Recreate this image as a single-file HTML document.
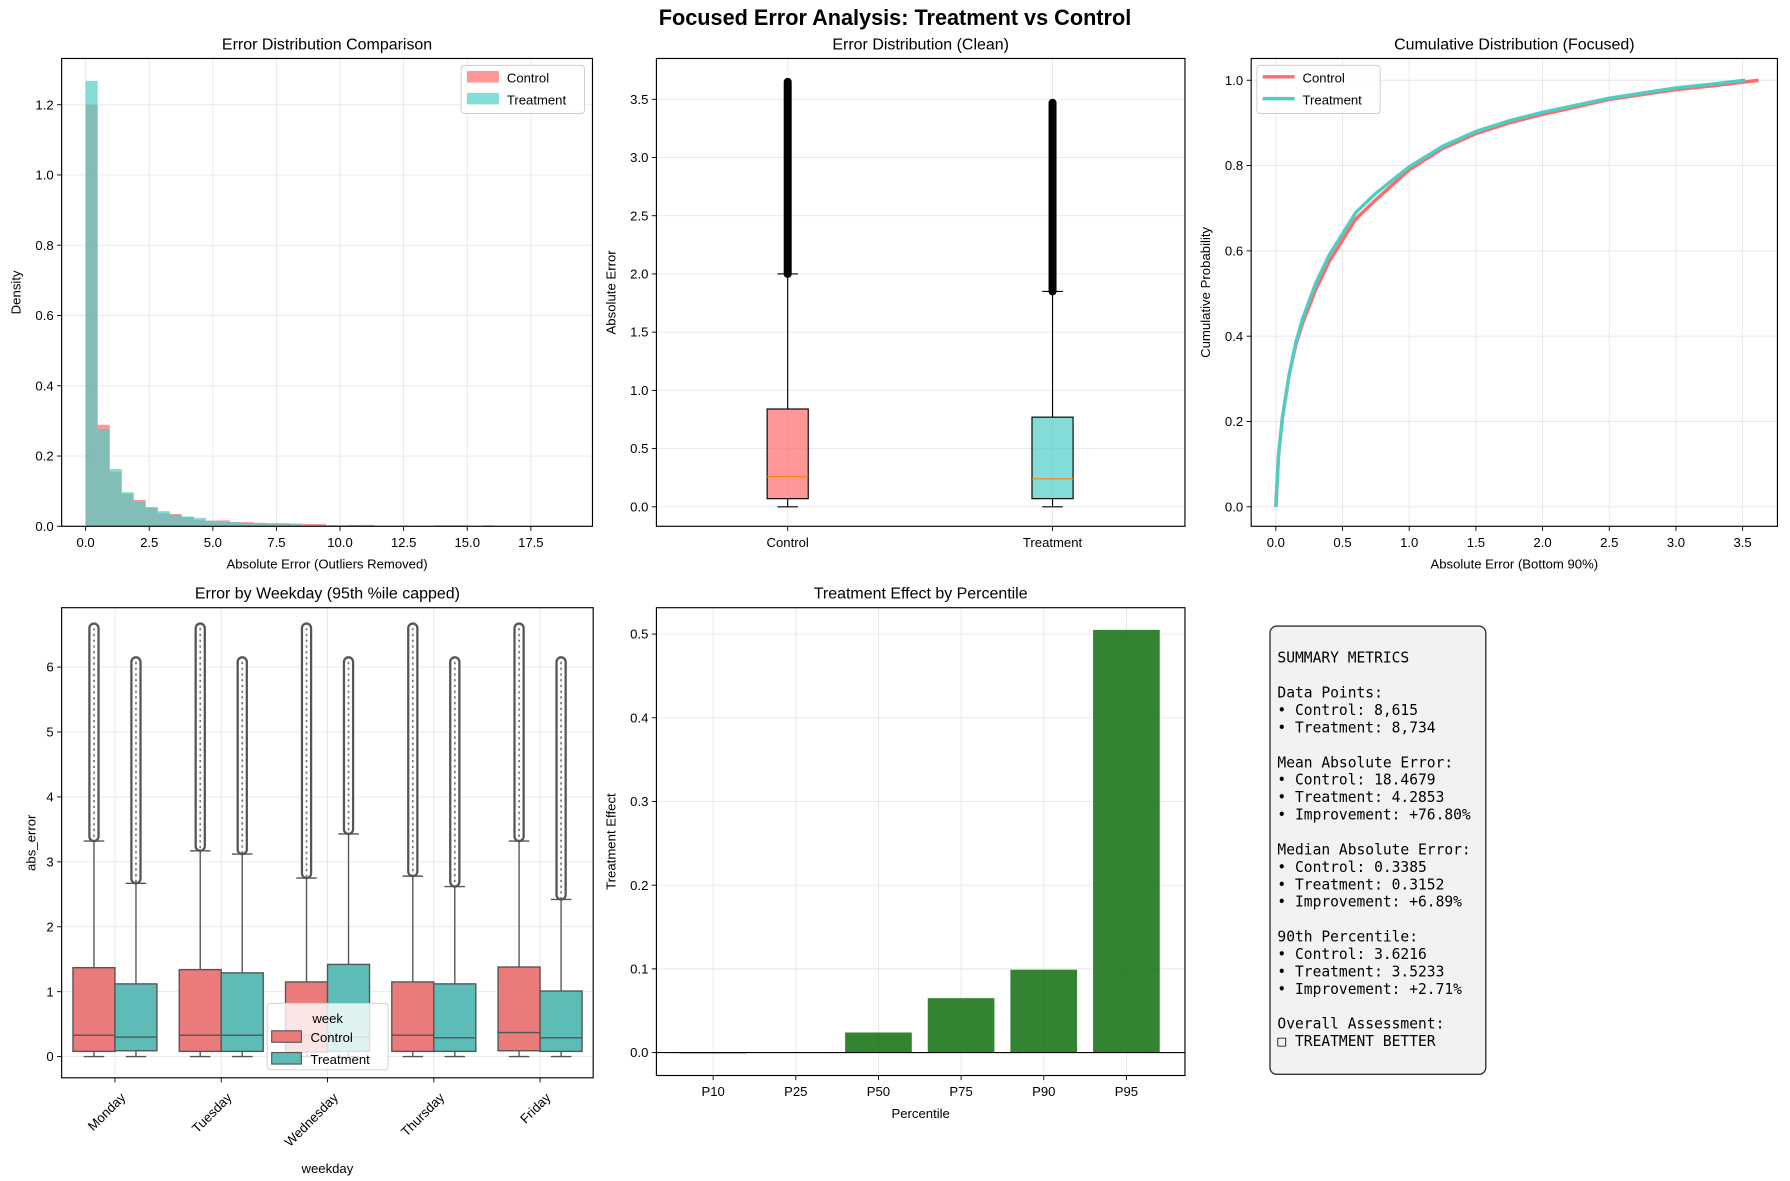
<!DOCTYPE html>
<html><head><meta charset="utf-8">
<style>
html,body{margin:0;padding:0;background:#fff;}
svg{display:block;font-family:"Liberation Sans","DejaVu Sans",sans-serif;}
.mono{font-family:"DejaVu Sans Mono","Liberation Mono",monospace;}
</style></head>
<body>
<svg id="fig" width="1790" height="1181" viewBox="0 0 1568 1030" preserveAspectRatio="none" xmlns="http://www.w3.org/2000/svg">
<rect x="0" y="0" width="1568" height="1030" fill="#fff"/>
<text x="784" y="22" text-anchor="middle" font-size="19" font-weight="bold">Focused Error Analysis: Treatment vs Control</text>
</svg>
<script>
// ---- Panel 1: histogram data ----
const histBinStart = 0;
const histBinWidth = 0.4725;
const histControl = [1.2,0.289,0.155,0.093,0.075,0.053,0.037,0.035,0.026,0.018,0.016,0.017,0.012,0.012,0.01,0.009,0.009,0.006,0.007,0.007,0.003,0.003,0.004,0.004,0.002,0.001,0.002,0.001,0.001,0.001,0.001,0.001,0,0.003,0,0,0,0,0,0];
const histTreatment = [1.268,0.277,0.163,0.097,0.07,0.055,0.043,0.033,0.028,0.024,0.016,0.013,0.012,0.009,0.008,0.007,0.006,0.008,0.004,0.003,0.003,0.002,0.003,0.002,0.001,0.002,0.002,0.001,0.001,0.003,0.003,0.003,0,0,0,0,0,0,0,0];
const histXTicks = [0,2.5,5,7.5,10,12.5,15,17.5];
const histYTicks = [0,0.2,0.4,0.6,0.8,1.0,1.2];
// ---- Panel 2: boxplot (clean) ----
const box2Groups = ['Control','Treatment'];
const box2Q1 = [0.07,0.07];
const box2Median = [0.26,0.24];
const box2Q3 = [0.84,0.77];
const box2WhiskerLow = [0,0];
const box2WhiskerHigh = [2.0,1.85];
const box2FlierMax = [3.65,3.47];
const box2YTicks = [0,0.5,1.0,1.5,2.0,2.5,3.0,3.5];
// ---- Panel 3: CDF ----
const cdfControlX = [0,0.02,0.05,0.1,0.15,0.2,0.3,0.4,0.5,0.6,0.75,1.0,1.25,1.5,1.75,2.0,2.5,3.0,3.3,3.62];
const cdfControlY = [0,0.12,0.21,0.31,0.38,0.43,0.51,0.575,0.625,0.675,0.72,0.79,0.84,0.875,0.9,0.92,0.955,0.978,0.988,1.0];
const cdfTreatX = [0,0.02,0.05,0.1,0.15,0.2,0.3,0.4,0.5,0.6,0.75,1.0,1.25,1.5,1.75,2.0,2.5,3.0,3.3,3.52];
const cdfTreatY = [0,0.12,0.21,0.31,0.385,0.44,0.525,0.59,0.64,0.69,0.735,0.797,0.845,0.88,0.905,0.925,0.958,0.982,0.992,1.0];
const cdfXTicks = [0,0.5,1.0,1.5,2.0,2.5,3.0,3.5];
const cdfYTicks = [0,0.2,0.4,0.6,0.8,1.0];
// ---- Panel 4: weekday boxplot ----
const weekdays = ['Monday','Tuesday','Wednesday','Thursday','Friday'];
const wdCtrlQ1 = [0.08,0.08,0.07,0.08,0.09];
const wdCtrlMed = [0.33,0.33,0.33,0.33,0.37];
const wdCtrlQ3 = [1.37,1.34,1.15,1.15,1.38];
const wdCtrlWhisk = [3.32,3.17,2.75,2.78,3.32];
const wdCtrlMax = [6.6,6.6,6.6,6.6,6.6];
const wdTrtQ1 = [0.09,0.08,0.08,0.08,0.08];
const wdTrtMed = [0.30,0.33,0.30,0.29,0.29];
const wdTrtQ3 = [1.12,1.29,1.42,1.12,1.01];
const wdTrtWhisk = [2.67,3.12,3.43,2.62,2.42];
const wdTrtMax = [6.08,6.08,6.08,6.08,6.08];
const wdYTicks = [0,1,2,3,4,5,6];
// ---- Panel 5: treatment effect ----
const pctCats = ['P10','P25','P50','P75','P90','P95'];
const pctEffect = [-0.001,0.0005,0.024,0.065,0.099,0.505];
const pctYTicks = [0,0.1,0.2,0.3,0.4,0.5];
// ---- Panel 6: summary ----
const summaryLines = ['SUMMARY METRICS','','Data Points:','• Control: 8,615','• Treatment: 8,734','','Mean Absolute Error:','• Control: 18.4679','• Treatment: 4.2853','• Improvement: +76.80%','','Median Absolute Error:','• Control: 0.3385','• Treatment: 0.3152','• Improvement: +6.89%','','90th Percentile:','• Control: 3.6216','• Treatment: 3.5233','• Improvement: +2.71%','','Overall Assessment:','□ TREATMENT BETTER'];

const NS='http://www.w3.org/2000/svg';
const fig=document.getElementById('fig');
function mk(tag,attrs,parent){const e=document.createElementNS(NS,tag);for(const k in attrs)e.setAttribute(k,attrs[k]);(parent||fig).appendChild(e);return e;}
function lin(d0,d1,r0,r1){return v=>r0+(v-d0)*(r1-r0)/(d1-d0);}
function fmt(v,dec){return v.toFixed(dec);}

function frame(name){
  const g=mk('g',{});
  
  
  return g;
}
function gridX(g,pos,y0,y1){pos.forEach(p=>{const l=mk('line',{x1:p,x2:p,y1:y0,y2:y1,stroke:'#b0b0b0','stroke-opacity':0.3,'stroke-width':0.8},g);
  
  });}
function gridY(g,pos,x0,x1){pos.forEach(p=>{const l=mk('line',{x1:x0,x2:x1,y1:p,y2:p,stroke:'#b0b0b0','stroke-opacity':0.3,'stroke-width':0.8},g);
  
  });}
function border(g,x0,y0,x1,y1){const r=mk('rect',{x:x0,y:y0,width:x1-x0,height:y1-y0,fill:'none',stroke:'#000','stroke-width':1},g);
  
  }
function xTicks(g,pos,labels,yb,rot){pos.forEach((p,i)=>{const l=mk('line',{x1:p,x2:p,y1:yb,y2:yb+4,stroke:'#000','stroke-width':0.8},g);
  
  
  let t;
  if(rot){t=mk('text',{x:p+4,y:yb+12,'font-size':11.5,'text-anchor':'end',transform:`rotate(-45 ${p+4} ${yb+12})`,'dominant-baseline':'hanging'},g);}
  else t=mk('text',{x:p,y:yb+18,'font-size':11.5,'text-anchor':'middle'},g);
  t.textContent=labels[i];
  
  });}
function yTicks(g,pos,labels,xl){pos.forEach((p,i)=>{const l=mk('line',{x1:xl-4,x2:xl,y1:p,y2:p,stroke:'#000','stroke-width':0.8},g);
  
  
  const t=mk('text',{x:xl-7,y:p+4,'font-size':11.5,'text-anchor':'end'},g);
  t.textContent=labels[i];
  
  });}
function title(g,x,y,s){const t=mk('text',{x:x,y:y,'font-size':14,'text-anchor':'middle'},g);t.textContent=s;
  
  }
function xlabel(g,x,y,s){const t=mk('text',{x:x,y:y,'font-size':11.5,'text-anchor':'middle'},g);t.textContent=s;
  
  }
function ylabel(g,x,y,s){const t=mk('text',{x:x,y:y,'font-size':11.5,'text-anchor':'middle',transform:`rotate(-90 ${x} ${y})`},g);t.textContent=s;
  
  }
function legendBox(g,x,y,w,h){const r=mk('rect',{x:x,y:y,width:w,height:h,rx:3,fill:'#fff','fill-opacity':0.8,stroke:'#ccc','stroke-width':0.8},g);
  
  }
function legendText(g,x,y,s){const t=mk('text',{x:x,y:y,'font-size':11.5},g);t.textContent=s;
  
  }

// ===== Panel 1 =====
(function(){
  const X0=54,X1=519,Y0=51,Y1=459;
  const sx=lin(0,17.5,75,465), sy=lin(0,1.0,459,152.6);
  const g=frame('histogram-panel');
  gridX(g,histXTicks.map(sx),Y0,Y1); gridY(g,histYTicks.map(sy),X0,X1);
  histControl.forEach((v,i)=>{if(v<=0)return;const a=histBinStart+i*histBinWidth;
    const r=mk('rect',{x:sx(a),y:sy(v),width:sx(a+histBinWidth)-sx(a),height:sy(0)-sy(v),fill:'#FF6B6B','fill-opacity':0.7},g);
    
    });
  histTreatment.forEach((v,i)=>{if(v<=0)return;const a=histBinStart+i*histBinWidth;
    const r=mk('rect',{x:sx(a),y:sy(v),width:sx(a+histBinWidth)-sx(a),height:sy(0)-sy(v),fill:'#4ECDC4','fill-opacity':0.7},g);
    
    });
  border(g,X0,Y0,X1,Y1);
  xTicks(g,histXTicks.map(sx),histXTicks.map(v=>fmt(v,1)),Y1);
  yTicks(g,histYTicks.map(sy),histYTicks.map(v=>fmt(v,1)),X0);
  title(g,(X0+X1)/2,Y0-8,'Error Distribution Comparison');
  xlabel(g,(X0+X1)/2,496,'Absolute Error (Outliers Removed)');
  ylabel(g,18,(Y0+Y1)/2,'Density');
  legendBox(g,404,57,108,42);
  let s=mk('rect',{x:409,y:62,width:28,height:10,fill:'#FF6B6B','fill-opacity':0.7},g);
  
  
  legendText(g,444,72,'Control');
  s=mk('rect',{x:409,y:81,width:28,height:10,fill:'#4ECDC4','fill-opacity':0.7},g);
  
  
  legendText(g,444,91,'Treatment');
})();

// ===== Panel 2 =====
(function(){
  const X0=575,X1=1038,Y0=51,Y1=459;
  const sy=lin(0,3.5,442,86.6);
  const cx=[690,922];const cols=['#FF6B6B','#4ECDC4'];
  const g=frame('clean-boxplot-panel');
  gridX(g,cx,Y0,Y1); gridY(g,box2YTicks.map(sy),X0,X1);
  box2Groups.forEach((n,i)=>{const c=cx[i],w=18;
    let e=mk('line',{x1:c,x2:c,y1:sy(box2Q3[i]),y2:sy(box2WhiskerHigh[i]),stroke:'#000','stroke-width':1},g);
    
    
    e=mk('line',{x1:c,x2:c,y1:sy(box2Q1[i]),y2:sy(box2WhiskerLow[i]),stroke:'#000','stroke-width':1},g);
    
    
    e=mk('line',{x1:c-9,x2:c+9,y1:sy(box2WhiskerHigh[i]),y2:sy(box2WhiskerHigh[i]),stroke:'#000','stroke-width':1},g);
    
    
    e=mk('line',{x1:c-9,x2:c+9,y1:sy(box2WhiskerLow[i]),y2:sy(box2WhiskerLow[i]),stroke:'#000','stroke-width':1},g);
    
    
    e=mk('rect',{x:c-3.5,y:sy(box2FlierMax[i])-3.5,width:7,height:sy(box2WhiskerHigh[i])-sy(box2FlierMax[i])+7,rx:3.5,fill:'#000'},g);
    
    
    e=mk('rect',{x:c-w,y:sy(box2Q3[i]),width:2*w,height:sy(box2Q1[i])-sy(box2Q3[i]),fill:cols[i],'fill-opacity':0.7,stroke:'#000','stroke-width':1},g);
    
    
    e=mk('line',{x1:c-w,x2:c+w,y1:sy(box2Median[i]),y2:sy(box2Median[i]),stroke:'#ff7f0e','stroke-width':1},g);
    
    
  });
  border(g,X0,Y0,X1,Y1);
  xTicks(g,cx,box2Groups,Y1);
  yTicks(g,box2YTicks.map(sy),box2YTicks.map(v=>fmt(v,1)),X0);
  title(g,(X0+X1)/2,Y0-8,'Error Distribution (Clean)');
  ylabel(g,539,(Y0+Y1)/2,'Absolute Error');
})();

// ===== Panel 3 =====
(function(){
  const X0=1096,X1=1557,Y0=51,Y1=459;
  const sx=lin(0,3.5,1117.6,1526.5), sy=lin(0,1,442,70);
  const g=frame('cdf-panel');
  gridX(g,cdfXTicks.map(sx),Y0,Y1); gridY(g,cdfYTicks.map(sy),X0,X1);
  let p=mk('polyline',{points:cdfControlX.map((x,i)=>sx(x)+','+sy(cdfControlY[i])).join(' '),fill:'none',stroke:'#FF6B6B','stroke-width':3,'stroke-linejoin':'round'},g);
  
  
  p=mk('polyline',{points:cdfTreatX.map((x,i)=>sx(x)+','+sy(cdfTreatY[i])).join(' '),fill:'none',stroke:'#4ECDC4','stroke-width':3,'stroke-linejoin':'round'},g);
  
  
  border(g,X0,Y0,X1,Y1);
  xTicks(g,cdfXTicks.map(sx),cdfXTicks.map(v=>fmt(v,1)),Y1);
  yTicks(g,cdfYTicks.map(sy),cdfYTicks.map(v=>fmt(v,1)),X0);
  title(g,(X0+X1)/2,Y0-8,'Cumulative Distribution (Focused)');
  xlabel(g,(X0+X1)/2,496,'Absolute Error (Bottom 90%)');
  ylabel(g,1060,(Y0+Y1)/2,'Cumulative Probability');
  legendBox(g,1101,57,108,42);
  let s=mk('line',{x1:1106,x2:1134,y1:67,y2:67,stroke:'#FF6B6B','stroke-width':3},g);
  
  
  legendText(g,1141,72,'Control');
  s=mk('line',{x1:1106,x2:1134,y1:86,y2:86,stroke:'#4ECDC4','stroke-width':3},g);
  
  
  legendText(g,1141,91,'Treatment');
})();

// ===== Panel 4 =====
(function(){
  const X0=54,X1=519.6,Y0=530,Y1=940;
  const sy=lin(0,6,921.5,581.8);
  const cx=weekdays.map((d,i)=>100.7+i*93.1);
  const g=frame('weekday-boxplot-panel');
  gridX(g,cx,Y0,Y1); gridY(g,wdYTicks.map(sy),X0,X1);
  const st='#555';
  function drawBox(c,q1,med,q3,wh,mx,col,name){
    const w=36.8,m=c+w/2*(name==='control'?-1:1),l=name==='control'?c-w:c;
    let e=mk('line',{x1:m,x2:m,y1:sy(q3),y2:sy(wh),stroke:st,'stroke-width':1.2},g);
    
    
    e=mk('line',{x1:m,x2:m,y1:sy(q1),y2:sy(0),stroke:st,'stroke-width':1.2},g);
    
    
    e=mk('line',{x1:m-9,x2:m+9,y1:sy(wh),y2:sy(wh),stroke:st,'stroke-width':1.2},g);
    
    
    e=mk('line',{x1:m-9,x2:m+9,y1:sy(0),y2:sy(0),stroke:st,'stroke-width':1.2},g);
    
    
    e=mk('rect',{x:m-4,y:sy(mx)-4,width:8,height:sy(wh)-sy(mx)+4,rx:4,fill:'#fff',stroke:st,'stroke-width':2},g);
    
    
    e=mk('line',{x1:m,x2:m,y1:sy(mx),y2:sy(wh),stroke:st,'stroke-width':1.5,'stroke-dasharray':'2 3','stroke-opacity':0.8},g);
    
    
    e=mk('rect',{x:l,y:sy(q3),width:w,height:sy(q1)-sy(q3),fill:col,stroke:st,'stroke-width':1.2},g);
    
    
    e=mk('line',{x1:l,x2:l+w,y1:sy(med),y2:sy(med),stroke:st,'stroke-width':1.2},g);
    
    
  }
  weekdays.forEach((d,i)=>{
    drawBox(cx[i],wdCtrlQ1[i],wdCtrlMed[i],wdCtrlQ3[i],wdCtrlWhisk[i],wdCtrlMax[i],'#EB7A7A','control');
    drawBox(cx[i],wdTrtQ1[i],wdTrtMed[i],wdTrtQ3[i],wdTrtWhisk[i],wdTrtMax[i],'#5DBDB6','treatment');
  });
  border(g,X0,Y0,X1,Y1);
  xTicks(g,cx,weekdays,Y1,true);
  yTicks(g,wdYTicks.map(sy),wdYTicks.map(String),X0);
  title(g,(X0+X1)/2,Y0-8,'Error by Weekday (95th %ile capped)');
  xlabel(g,(X0+X1)/2,1023,'weekday');
  ylabel(g,31,(Y0+Y1)/2,'abs_error');
  legendBox(g,234,875,106,58);
  const t=mk('text',{x:287,y:892,'font-size':11.5,'text-anchor':'middle'},g);t.textContent='week';
  
  
  let s=mk('rect',{x:238,y:899,width:26,height:10,fill:'#EB7A7A',stroke:st},g);
  
  
  legendText(g,272,909,'Control');
  s=mk('rect',{x:238,y:918,width:26,height:10,fill:'#5DBDB6',stroke:st},g);
  
  
  legendText(g,272,928,'Treatment');
})();

// ===== Panel 5 =====
(function(){
  const X0=575,X1=1038,Y0=530,Y1=938;
  const sy=lin(0,0.5,918,553);
  const cx=pctCats.map((c,i)=>624.7+i*72.4);
  const g=frame('treatment-effect-panel');
  gridX(g,cx,Y0,Y1); gridY(g,pctYTicks.map(sy),X0,X1);
  pctEffect.forEach((v,i)=>{const y=Math.min(sy(v),sy(0)),h=Math.abs(sy(v)-sy(0));
    const r=mk('rect',{x:cx[i]-29.2,y:y,width:58.4,height:Math.max(h,0.5),fill:'#006400','fill-opacity':0.8},g);
    
    });
  const z=mk('line',{x1:X0,x2:X1,y1:sy(0),y2:sy(0),stroke:'#000','stroke-width':1},g);
  
  
  border(g,X0,Y0,X1,Y1);
  xTicks(g,cx,pctCats,Y1);
  yTicks(g,pctYTicks.map(sy),pctYTicks.map(v=>fmt(v,1)),X0);
  title(g,(X0+X1)/2,Y0-8,'Treatment Effect by Percentile');
  xlabel(g,(X0+X1)/2,975,'Percentile');
  ylabel(g,539,(Y0+Y1)/2,'Treatment Effect');
})();

// ===== Panel 6 =====
(function(){
  const g=frame('summary-panel');
  const r=mk('rect',{x:1112.5,y:546,width:189,height:391,rx:6,fill:'#f2f2f2',stroke:'#333','stroke-width':1.2},g);
  
  
  summaryLines.forEach((s,i)=>{if(!s)return;
    const t=mk('text',{x:1119,y:578+i*15.2,'font-size':12.8,class:'mono','xml:space':'preserve'},g);
    t.textContent=s;
    
    });
})();
</script>
</body></html>
